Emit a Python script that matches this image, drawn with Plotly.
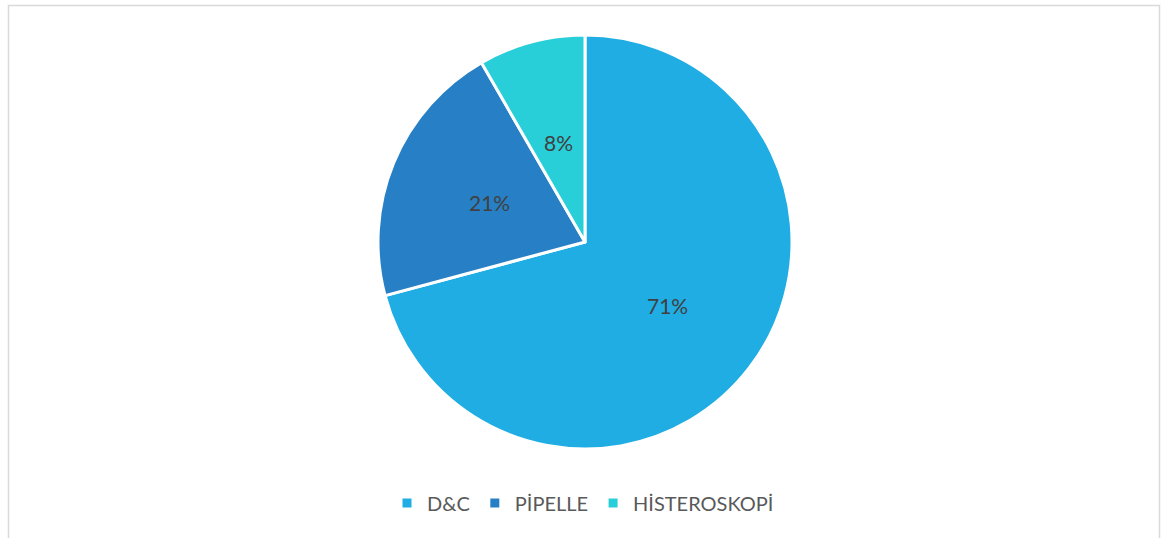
import math
import plotly.graph_objects as go

labels = ["D&C", "PİPELLE", "HİSTEROSKOPİ"]
values = [85, 25, 10]
colors = ["#1FADE4", "#2780C5", "#29CFD8"]

W, H = 1166, 538
cx, cy, r = 585, 242, 207

fig = go.Figure(go.Pie(
    labels=labels, values=values, sort=False, direction="clockwise", rotation=0,
    marker=dict(colors=colors, line=dict(color="white", width=3)),
    textinfo="none", hoverinfo="label+percent",
    domain=dict(x=[(cx - r) / W, (cx + r) / W], y=[1 - (cy + r) / H, 1 - (cy - r) / H]),
))

total = sum(values)
cum = 0
for v in values:
    mid = (cum + v / 2) / total * 2 * math.pi
    cum += v
    d = 0.5 * r
    px = cx + math.sin(mid) * d
    py = cy - math.cos(mid) * d
    fig.add_annotation(x=px / W, y=1 - py / H, xref="paper", yref="paper",
                       xanchor="center", yanchor="middle",
                       text=f"{round(v / total * 100)}%", showarrow=False,
                       font=dict(family="Lato", size=21, color="#404040"))

fig.add_shape(type="rect", xref="paper", yref="paper",
              x0=8.5 / W, x1=1159.5 / W, y0=-0.05, y1=1 - 5.5 / H,
              line=dict(color="#D9D9D9", width=1.5), fillcolor="rgba(0,0,0,0)")

fig.update_layout(
    width=W, height=H, margin=dict(l=0, r=0, t=0, b=0),
    paper_bgcolor="white", plot_bgcolor="white",
    showlegend=True,
    legend=dict(orientation="h", x=0.5, xanchor="center", y=1 - 503 / H, yanchor="middle",
                font=dict(family="Lato", size=20, color="#595959"), itemwidth=30,
                traceorder="normal"),
)
fig.write_html("out.html")
